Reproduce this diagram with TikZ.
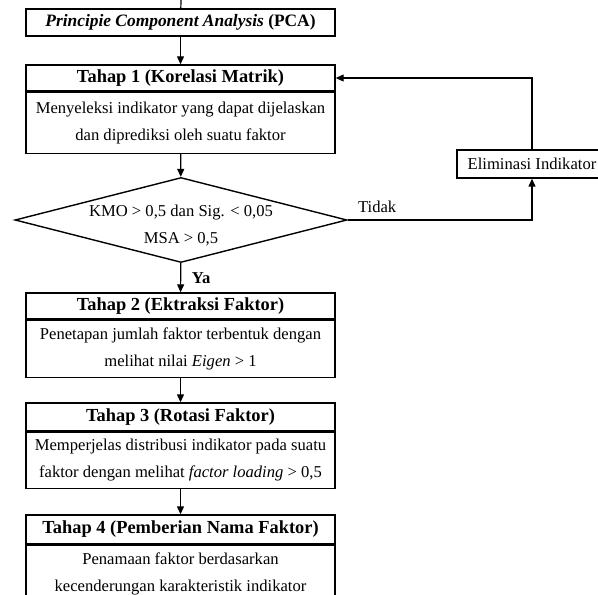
\documentclass[tikz,border=0pt]{standalone}
\usepackage{fontspec}
\setmainfont{Liberation Serif}
\usetikzlibrary{positioning,shapes.geometric,arrows.meta}

\tikzset{
  kepala/.style={draw, line width=.7pt, minimum width=154.5pt, inner sep=0pt, font=\fontsize{9.2}{12}\selectfont\bfseries},
  isi/.style={draw, line width=.7pt, minimum width=154.5pt, inner sep=0pt, align=center, font=\fontsize{8.3}{13.5}\selectfont},
  panah/.style={line width=.6pt, -{Triangle[length=4pt,width=3.5pt]}},
  tulisan/.style={font=\fontsize{8.3}{13.5}\selectfont},
}

\begin{document}
\begin{tikzpicture}[x=.5pt,y=-.5pt]
  \useasboundingbox (0,0) rectangle (598,594);
  \coordinate (atas) at (181,0);
  \node[kepala, minimum height=13.5pt, font=\fontsize{8.7}{12}\selectfont\bfseries] (pca) at (180.5,22.5) {\textit{Principie Component Analysis} (PCA)};

  \node[kepala, minimum height=13pt] (h1) at (180.5,78) {Tahap 1 (Korelasi Matrik)};
  \node[isi, minimum height=30.5pt, below=0pt of h1] (b1) {Menyeleksi indikator yang dapat dijelaskan\\dan diprediksi oleh suatu faktor};

  \node[diamond, draw, line width=.7pt, minimum width=166pt, minimum height=42.5pt, inner sep=0pt] (cek) at (181,220) {};
  \node[tulisan, align=center] (cekteks) at (181,226) {KMO > 0,5 dan Sig. < 0,05\\MSA > 0,5};

  \node[kepala, minimum height=13pt] (h2) at (180.5,306) {Tahap 2 (Ektraksi Faktor)};
  \node[isi, minimum height=28.5pt, below=0pt of h2] (b2) {Penetapan jumlah faktor terbentuk dengan\\melihat nilai \textit{Eigen} > 1};

  \node[kepala, minimum height=14pt] (h3) at (180.5,417) {Tahap 3 (Rotasi Faktor)};
  \node[isi, minimum height=28pt, below=0pt of h3] (b3) {Memperjelas distribusi indikator pada suatu\\faktor dengan melihat \textit{factor loading} > 0,5};

  \node[kepala, minimum height=14.5pt] (h4) at (180.5,529.5) {Tahap 4 (Pemberian Nama Faktor)};
  \node[isi, minimum height=29pt, below=0pt of h4] (b4) {Penamaan faktor berdasarkan\\kecenderungan karakteristik indikator};

  \node[isi, minimum width=75pt, minimum height=14pt] (elim) at (532,164) {Eliminasi Indikator};

  % alur utama
  \draw[line width=.6pt] (atas) -- (pca);
  \draw[panah] (pca) -- (h1);
  \draw[panah] (b1) -- (cek);
  \draw[panah] (cek) -- node[right, xshift=2pt, font=\fontsize{8.3}{10}\selectfont\bfseries] (ya) {Ya} (h2);
  \draw[panah] (b2) -- (h3);
  \draw[panah] (b3) -- (h4);
  % jalur tidak
  \draw[panah] (cek.east) -- node[pos=.16, above, tulisan] (tidak) {Tidak} (cek.east -| elim) -- (elim);
  \draw[panah] (elim) -- (elim |- h1) -- (h1);
\end{tikzpicture}
\end{document}
